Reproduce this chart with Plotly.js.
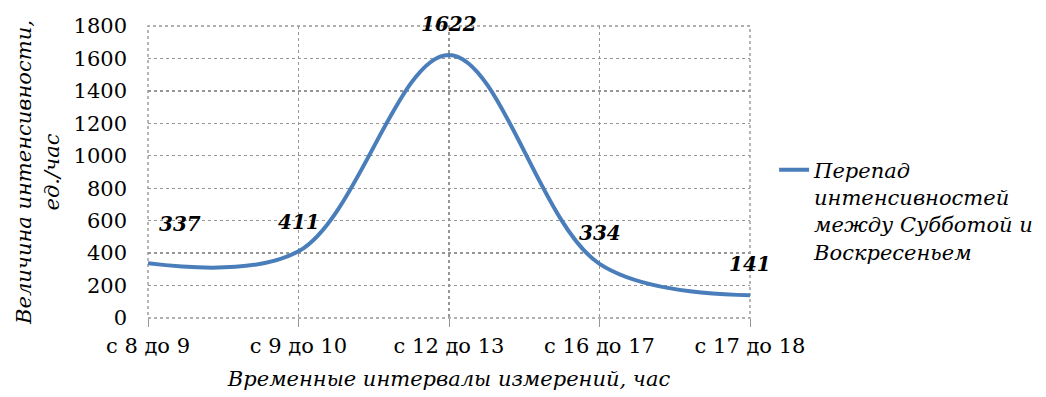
<!DOCTYPE html>
<html><head><meta charset="utf-8">
<script src="https://cdn.plot.ly/plotly-3.0.1.min.js"></script>
<style>html,body{margin:0;padding:0;background:#fff}#chart{width:1046px;height:397px}</style>
</head><body><div id="chart"></div>
<script>
const categories = ["с 8 до 9", "с 9 до 10", "с 12 до 13", "с 16 до 17", "с 17 до 18"];
const values = [337, 411, 1622, 334, 141];
const seriesName = "<i>Перепад<br>интенсивностей<br>между Субботой и<br>Воскресеньем</i>";
const yTicks = [0, 200, 400, 600, 800, 1000, 1200, 1400, 1600, 1800];
const labelShiftX = [32, 0, 0, 0, 0];
const labelShiftY = [39, 29, 31, 31, 31];

const font = "DejaVu Serif";
const gridCol = "#969696";
const annotations = values.map((v, i) => ({
  x: i, y: v, xref: "x", yref: "y", text: "<b><i>" + v + "</i></b>",
  showarrow: false, xshift: labelShiftX[i], yshift: labelShiftY[i],
  font: {family: font, size: 20, color: "#000"}
}));

Plotly.newPlot("chart", [{
  x: categories.map((c, i) => i), y: values, type: "scatter", mode: "lines",
  name: seriesName, line: {shape: "spline", smoothing: 1, color: "#4a7ebb", width: 4}
}], {
  width: 1046, height: 397,
  margin: {l: 148, r: 296, t: 26, b: 79, autoexpand: false},
  paper_bgcolor: "#fff", plot_bgcolor: "#fff",
  font: {family: font, size: 21, color: "#000"},
  xaxis: {
    range: [0, 4], tickmode: "array", tickvals: categories.map((c, i) => i), ticktext: categories,
    showgrid: true, gridcolor: gridCol, griddash: "dot", gridwidth: 1.4,
    zeroline: false, showline: false, ticks: "outside", ticklen: 8, tickcolor: gridCol,
    ticklabelstandoff: 1, automargin: false,
    tickfont: {family: font, size: 21, color: "#000"},
    title: {text: "<i>Временные интервалы измерений, час</i>", font: {family: font, size: 21, color: "#000"}, standoff: 14}
  },
  yaxis: {
    range: [0, 1800], tickmode: "array", tickvals: yTicks,
    showgrid: true, gridcolor: gridCol, griddash: "dot", gridwidth: 1.4,
    zeroline: false, showline: false, ticks: "",
    ticklabelstandoff: 20, automargin: false,
    tickfont: {family: font, size: 21, color: "#000"},
    title: {text: "<i>Величина интенсивности,<br>ед./час</i>", font: {family: font, size: 21, color: "#000"}, standoff: 8}
  },
  shapes: [{type: "rect", xref: "paper", yref: "paper", x0: 0, x1: 1, y0: 0, y1: 1,
    line: {color: gridCol, width: 1.4, dash: "dot"}, layer: "below"}],
  showlegend: true,
  legend: {x: 1.04, xanchor: "left", y: 0.577, yanchor: "top", valign: "top",
    font: {family: font, size: 21, color: "#000"}, tracegroupgap: 0},
  annotations: annotations
}, {displayModeBar: false, staticPlot: true});
</script></body></html>
